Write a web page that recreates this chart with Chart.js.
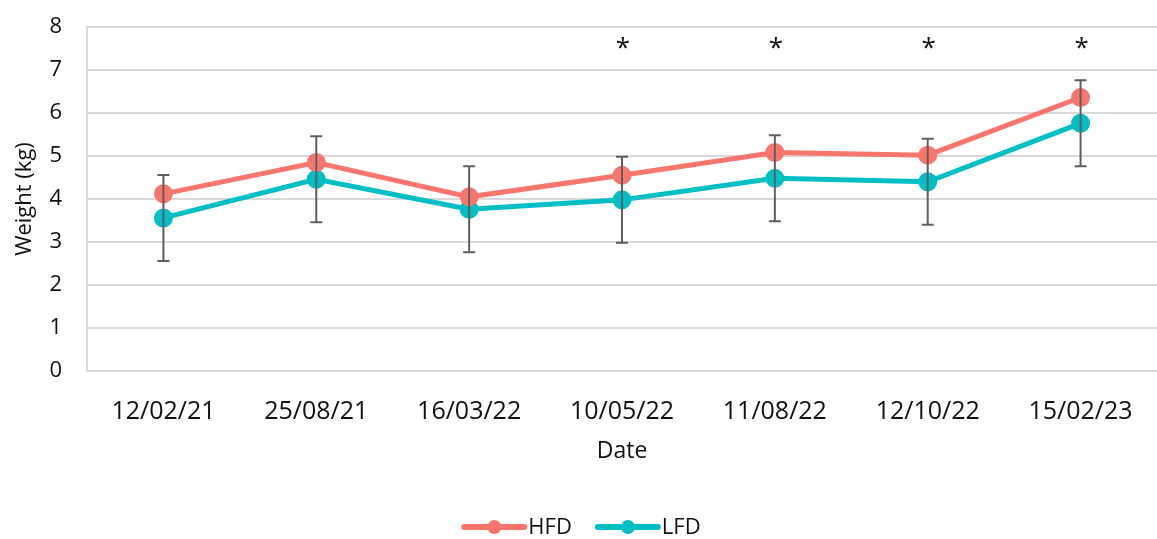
<!DOCTYPE html>
<html>
<head>
<meta charset="utf-8">
<style>
  html, body { margin: 0; padding: 0; background: #fff; }
  #wrap { width: 1157px; height: 539px; }
</style>
<script src="https://cdn.jsdelivr.net/npm/chart.js@4.4.1/dist/chart.umd.min.js"></script>
</head>
<body>
<div id="wrap"><canvas id="chart-weight"></canvas></div>
<script>
/* ── data ───────────────────────────────────────────── */
const dates   = ['12/02/21', '25/08/21', '16/03/22', '10/05/22', '11/08/22', '12/10/22', '15/02/23'];
const hfd     = [4.12, 4.85, 4.05, 4.55, 5.08, 5.02, 6.36];
const lfd     = [3.56, 4.46, 3.76, 3.98, 4.48, 4.40, 5.76];
const lfdErr  = [1.0, 1.0, 1.0, 1.0, 1.0, 1.0, 1.0];
const signif  = ['', '', '', '*', '*', '*', '*'];
const yTicks  = [0, 1, 2, 3, 4, 5, 6, 7, 8];

const RED  = '#f8766d';
const TEAL = '#00bfc4';
const FONT = "'Open Sans', sans-serif";

// error bars (LFD ± err)
const errorBars = {
  id: 'errorBars',
  afterDatasetsDraw(chart) {
    const { ctx, scales: { x, y } } = chart;
    ctx.save();
    ctx.strokeStyle = '#5f5f5f';
    ctx.lineWidth = 2;
    lfd.forEach((v, i) => {
      const px = x.getPixelForValue(i);
      const top = y.getPixelForValue(v + lfdErr[i]);
      const bot = y.getPixelForValue(v - lfdErr[i]);
      ctx.beginPath();
      ctx.moveTo(px, top); ctx.lineTo(px, bot);
      ctx.moveTo(px - 6, top); ctx.lineTo(px + 6, top);
      ctx.moveTo(px - 6, bot); ctx.lineTo(px + 6, bot);
      ctx.stroke();
    });
    ctx.restore();
  }
};

// significance stars
const stars = {
  id: 'stars',
  afterDraw(chart) {
    const { ctx, scales: { x, y } } = chart;
    ctx.save();
    ctx.fillStyle = '#111';
    ctx.font = '26px ' + FONT;
    ctx.textAlign = 'center';
    ctx.textBaseline = 'middle';
    signif.forEach((s, i) => {
      if (s) ctx.fillText(s, x.getPixelForValue(i) + 1, y.getPixelForValue(7.5));
    });
    ctx.restore();
  }
};

// bottom legend: line + dot + label
const lineLegend = {
  id: 'lineLegend',
  afterDraw(chart) {
    const { ctx, width, height } = chart;
    const items = chart.data.datasets.map(d => ({ label: d.label, color: d.borderColor }));
    ctx.save();
    ctx.font = '22px ' + FONT;
    const lineW = 60, gapTxt = 4, gapItem = 26;
    const widths = items.map(it => lineW + gapTxt + ctx.measureText(it.label).width);
    const total = widths.reduce((a, b) => a + b, 0) + gapItem * (items.length - 1);
    let xx = (width - total) / 2 + 4;
    const yy = height - 12;
    items.forEach((it, i) => {
      ctx.strokeStyle = it.color; ctx.fillStyle = it.color;
      ctx.lineWidth = 6; ctx.lineCap = 'round';
      ctx.beginPath(); ctx.moveTo(xx, yy); ctx.lineTo(xx + lineW, yy); ctx.stroke();
      ctx.beginPath(); ctx.arc(xx + lineW / 2, yy, 7, 0, Math.PI * 2); ctx.fill();
      ctx.fillStyle = '#111';
      ctx.textBaseline = 'middle';
      ctx.fillText(it.label, xx + lineW + gapTxt, yy + 1);
      xx += widths[i] + gapItem;
    });
    ctx.restore();
  }
};

new Chart(document.getElementById('chart-weight'), {
  type: 'line',
  data: {
    labels: dates,
    datasets: [
      {
        label: 'HFD', data: hfd,
        borderColor: RED, backgroundColor: RED,
        borderWidth: 5, pointRadius: 7, pointHoverRadius: 7, tension: 0,
      },
      {
        label: 'LFD', data: lfd,
        borderColor: TEAL, backgroundColor: TEAL,
        borderWidth: 5, pointRadius: 7, pointHoverRadius: 7, tension: 0,
      },
    ]
  },
  plugins: [errorBars, stars, lineLegend],
  options: {
    responsive: true,
    maintainAspectRatio: false,
    animation: false,
    layout: { autoPadding: false, padding: { top: 27, right: 0, bottom: 60, left: 0 } },
    plugins: {
      legend: { display: false },
      tooltip: { enabled: false },
    },
    scales: {
      x: {
        offset: true,
        grid: { display: false },
        border: { display: false },
        ticks: { font: { family: FONT, size: 25 }, color: '#111', padding: 18, maxRotation: 0 },
        title: { display: true, text: 'Date', font: { family: FONT, size: 23 }, color: '#111', padding: { top: 0, bottom: 14 } },
        afterFit: s => { s.height = 108; s.paddingLeft = 0; s.paddingRight = 0; },
      },
      y: {
        min: 0, max: 8,
        afterBuildTicks: s => { s.ticks = yTicks.map(v => ({ value: v })); },
        grid: { color: '#d9d9d9', lineWidth: 2, drawTicks: false },
        border: { display: true, color: '#d9d9d9', width: 2 },
        ticks: { font: { family: FONT, size: 22 }, color: '#111', padding: 25 },
        title: { display: true, text: 'Weight (kg)', font: { family: FONT, size: 22 }, color: '#111', padding: { top: 12, bottom: 0 } },
        afterFit: s => { s.width = 87; s.paddingTop = 0; s.paddingBottom = 0; },
      }
    }
  }
});
</script>
</body>
</html>
